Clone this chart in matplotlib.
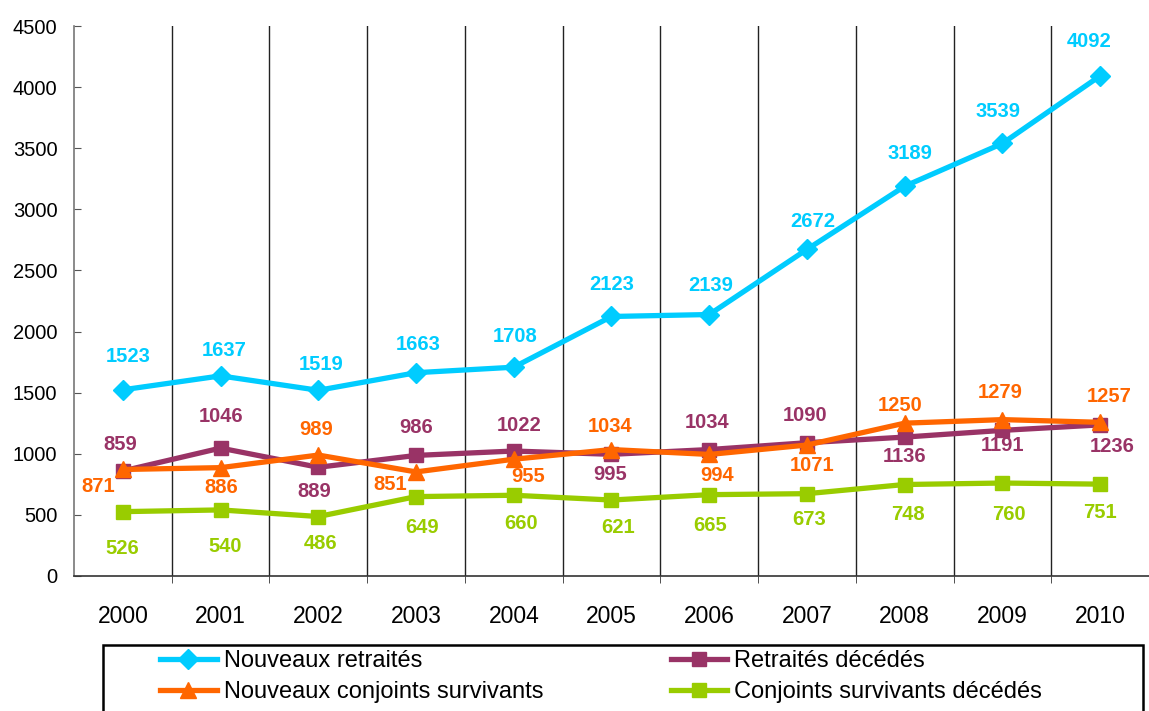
import numpy as np
import matplotlib
matplotlib.use('Agg')
import matplotlib.pyplot as plt
from matplotlib.patches import Rectangle

plt.rcParams['font.family'] = ['Liberation Sans', 'DejaVu Sans']

years = ['2000', '2001', '2002', '2003', '2004', '2005', '2006', '2007', '2008', '2009', '2010']
nouveaux_retraites = [1523, 1637, 1519, 1663, 1708, 2123, 2139, 2672, 3189, 3539, 4092]
retraites_decedes = [859, 1046, 889, 986, 1022, 995, 1034, 1090, 1136, 1191, 1236]
nouveaux_conjoints = [871, 886, 989, 851, 955, 1034, 994, 1071, 1250, 1279, 1257]
conjoints_decedes = [526, 540, 486, 649, 660, 621, 665, 673, 748, 760, 751]

# label offsets in pixels (dx, dy), positive dy = up
off_blue = [(5, 33), (4, 25), (3, 26), (2, 28), (1, 31), (0, 32), (1, 29), (6, 28), (5, 33), (-4, 32), (-11, 34)]
off_purple = [(-3, 26), (0, 32), (-4, -24), (0, 28), (5, 26), (-1, -20), (-2, 27), (-2, 27), (0, -19), (0, -15), (12, -22)]
off_orange = [(-25, -17), (1, -20), (-2, 26), (-26, -13), (14, -17), (-1, 23), (8, -21), (5, -20), (-5, 18), (-2, 27), (9, 26)]
off_green = [(-1, -37), (5, -37), (2, -27), (6, -31), (7, -28), (7, -27), (1, -31), (2, -26), (3, -30), (7, -31), (0, -28)]

series = [
    ('Nouveaux retraités', nouveaux_retraites, '#00CCFF', 'D', 10, off_blue),
    ('Retraités décédés', retraites_decedes, '#993366', 's', 10, off_purple),
    ('Nouveaux conjoints survivants', nouveaux_conjoints, '#FF6600', '^', 11, off_orange),
    ('Conjoints survivants décédés', conjoints_decedes, '#99CC00', 's', 10, off_green),
]

fig = plt.figure(figsize=(11.49, 7.11), dpi=100)
ax = fig.add_axes([0.0644, 0.19, 0.9356, 0.7734])
x = np.arange(len(years))

handles = {}
for name, vals, col, mk, ms, offs in series:
    h, = ax.plot(x, vals, color=col, lw=3.8, marker=mk, markersize=ms, label=name, zorder=3)
    handles[name] = h
    for xi, v, (dx, dy) in zip(x, vals, offs):
        ax.annotate(str(v), (xi, v), xytext=(dx, dy), textcoords='offset pixels',
                    ha='center', va='center', color=col, fontsize=14.5, fontweight='bold')

ax.set_xlim(-0.5, 10.5)
ax.set_ylim(0, 4500)
ax.set_yticks(np.arange(0, 4501, 500))
ax.set_xticks(x)
ax.set_xticklabels(years)
ax.set_xticks(np.arange(0.5, 10, 1), minor=True)
ax.grid(which='minor', axis='x', color='#222222', lw=1)
ax.tick_params(axis='x', which='major', length=0, pad=21, labelsize=16.5)
ax.tick_params(axis='x', which='minor', length=5, direction='out', color='#333333')
ax.tick_params(axis='y', direction='in', length=5, pad=12, labelsize=14.5, color='#555555')
ax.spines['top'].set_visible(False)
ax.spines['right'].set_visible(False)
ax.spines['left'].set_color('#777777')
ax.spines['bottom'].set_color('#333333')
ax.spines['left'].set_linewidth(1.2)
ax.spines['bottom'].set_linewidth(1.2)

# legend box (cut off at the bottom like the original)
fig.patches.append(Rectangle((103 / 1149, -0.05), 1040 / 1149, 0.05 + 66 / 711,
                             transform=fig.transFigure, fill=False, edgecolor='black', lw=1.8))

order = ['Nouveaux retraités', 'Nouveaux conjoints survivants', 'Retraités décédés', 'Conjoints survivants décédés']
leg = fig.legend([handles[n] for n in order], order, ncol=2, loc='upper left',
                 bbox_to_anchor=(160 / 1149, 1 - 650 / 711),
                 fontsize=17, handlelength=2.4, handletextpad=0.3, labelspacing=0.4,
                 columnspacing=5.4, frameon=False, borderaxespad=0, borderpad=0)

fig.savefig('out.png', dpi=100)
